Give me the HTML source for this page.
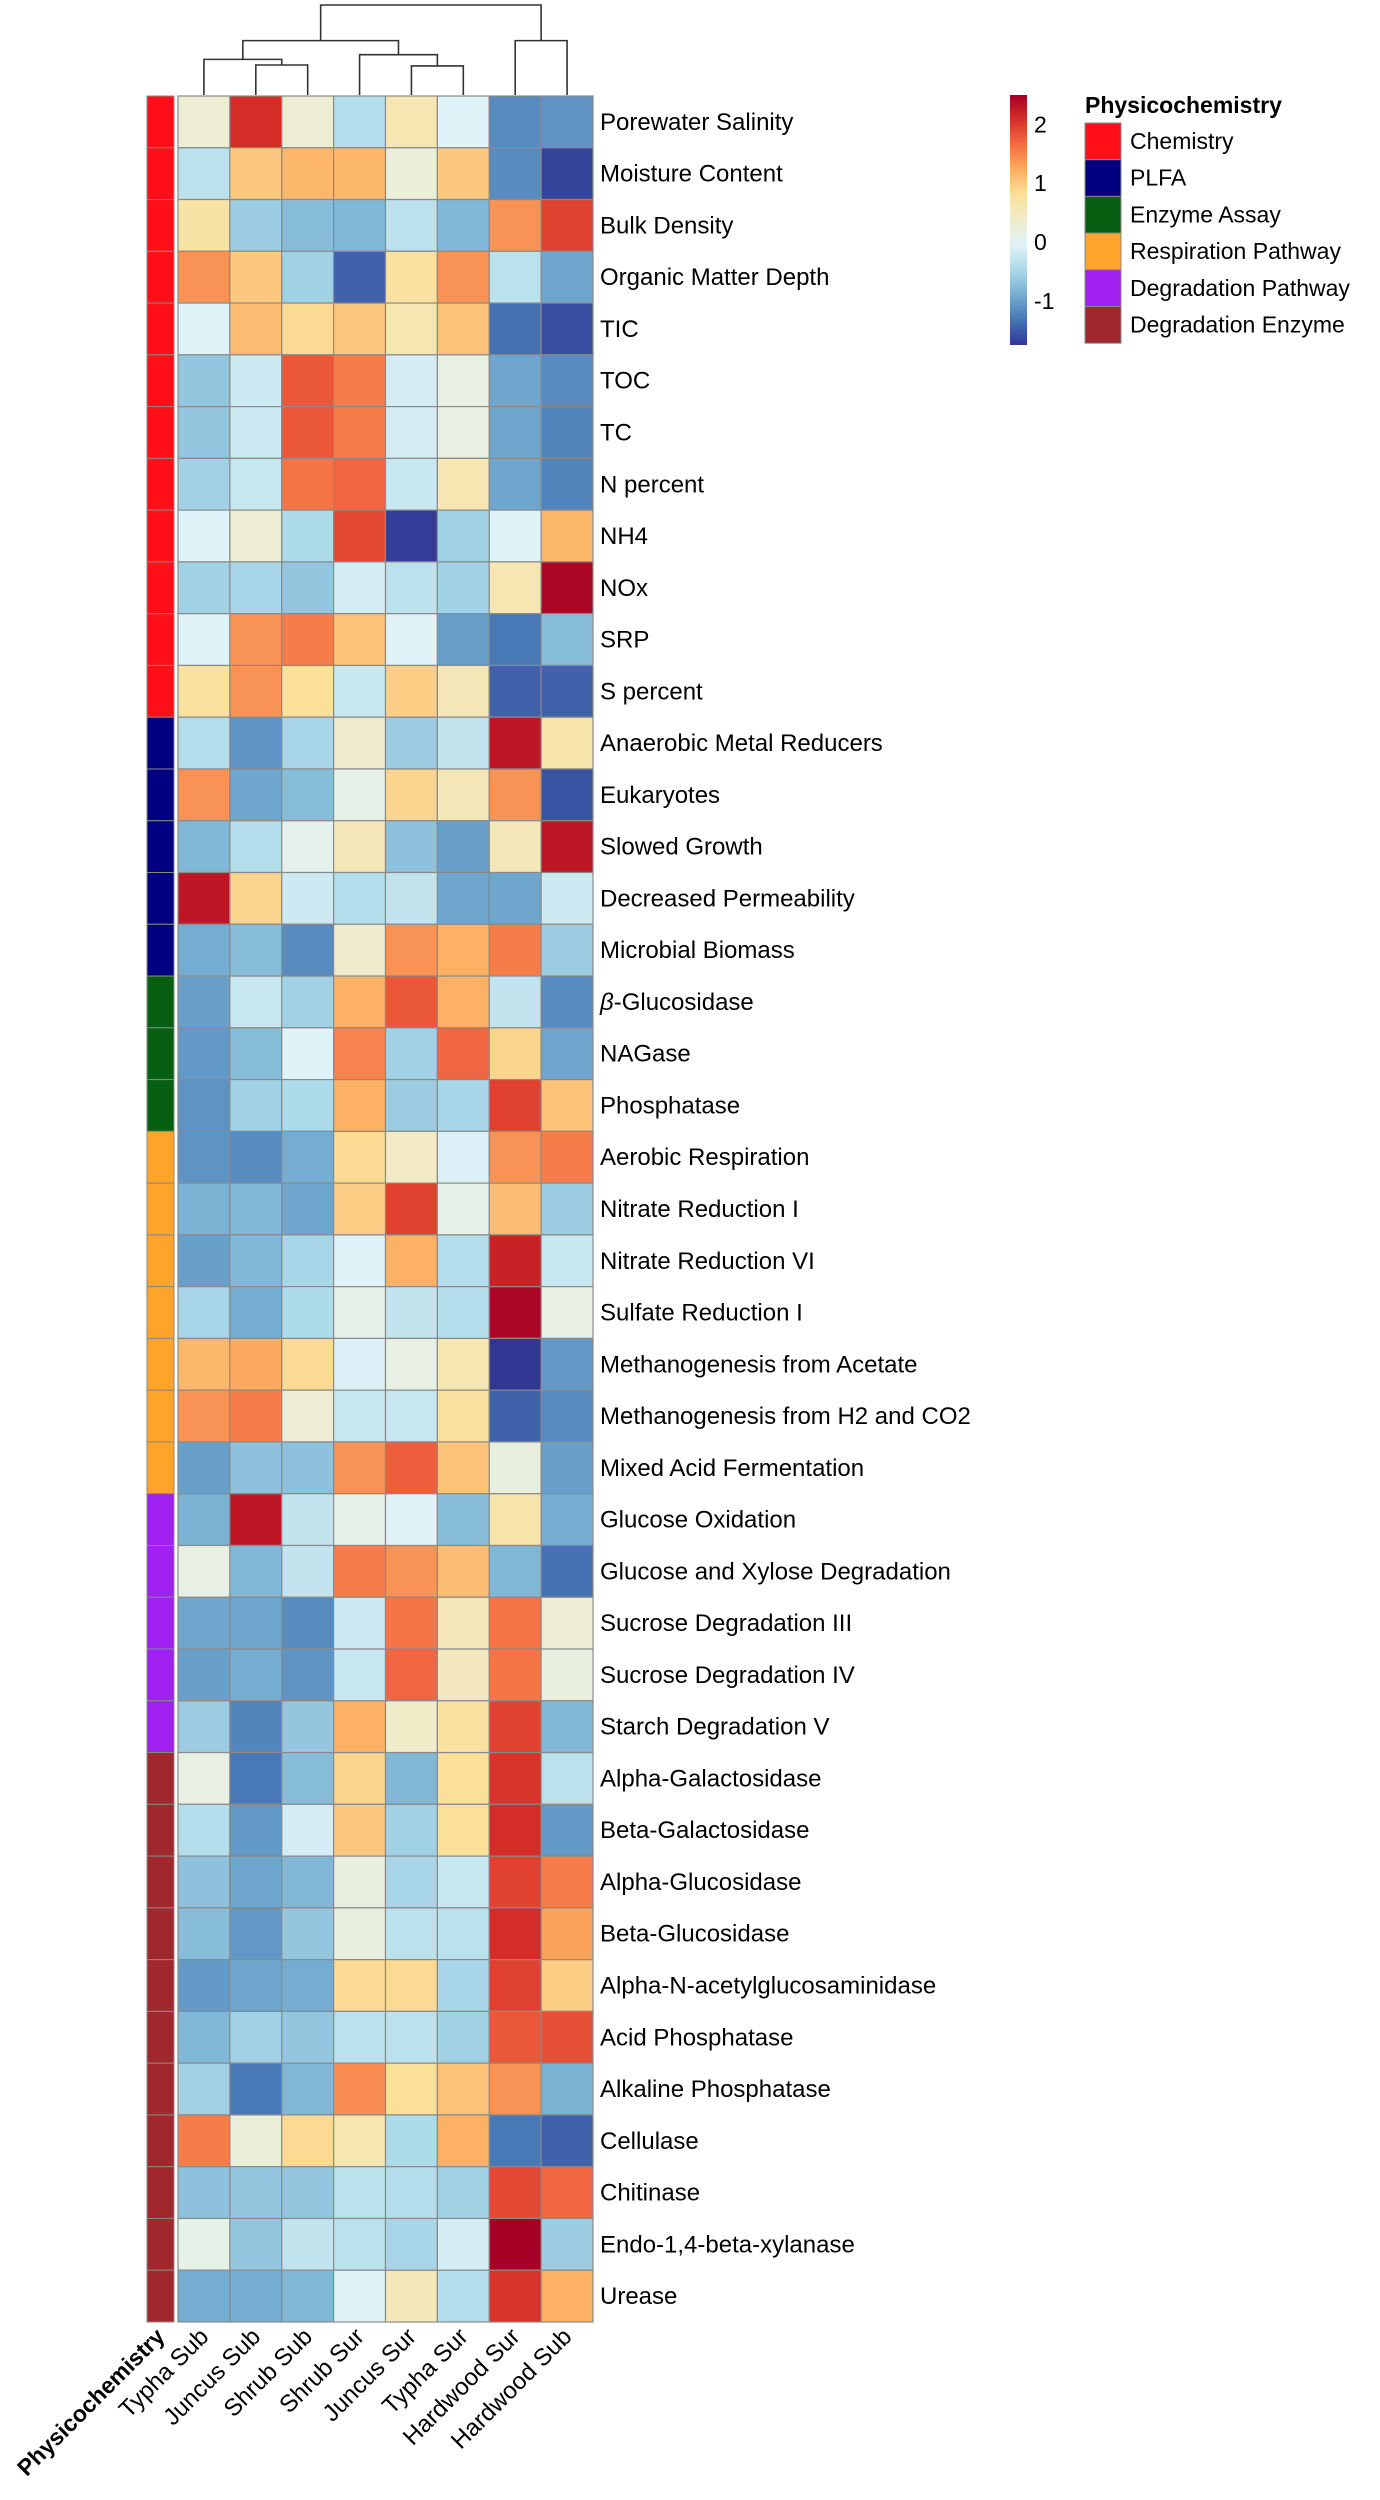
<!DOCTYPE html>
<html><head><meta charset="utf-8"><style>
html,body{margin:0;padding:0;background:#fff;}
svg{display:block;font-family:"Liberation Sans",Arial,sans-serif;}
</style></head><body>
<svg id="chart" width="1380" height="2500" viewBox="0 0 1380 2500" xmlns="http://www.w3.org/2000/svg"></svg>
<script>
const samples = ["Typha Sub","Juncus Sub","Shrub Sub","Shrub Sur","Juncus Sur","Typha Sur","Hardwood Sur","Hardwood Sub"];
const rowLabels = ["Porewater Salinity","Moisture Content","Bulk Density","Organic Matter Depth","TIC","TOC","TC","N percent","NH4","NOx","SRP","S percent",
"Anaerobic Metal Reducers","Eukaryotes","Slowed Growth","Decreased Permeability","Microbial Biomass",
"β-Glucosidase","NAGase","Phosphatase",
"Aerobic Respiration","Nitrate Reduction I","Nitrate Reduction VI","Sulfate Reduction I","Methanogenesis from Acetate","Methanogenesis from H2 and CO2","Mixed Acid Fermentation",
"Glucose Oxidation","Glucose and Xylose Degradation","Sucrose Degradation III","Sucrose Degradation IV","Starch Degradation V",
"Alpha-Galactosidase","Beta-Galactosidase","Alpha-Glucosidase","Beta-Glucosidase","Alpha-N-acetylglucosaminidase","Acid Phosphatase","Alkaline Phosphatase","Cellulase","Chitinase","Endo-1,4-beta-xylanase","Urease"];
const rowGroups = [0,0,0,0,0,0,0,0,0,0,0,0,1,1,1,1,1,2,2,2,3,3,3,3,3,3,3,4,4,4,4,4,5,5,5,5,5,5,5,5,5,5,5];
const groupNames = ["Chemistry","PLFA","Enzyme Assay","Respiration Pathway","Degradation Pathway","Degradation Enzyme"];
const groupColors = ["#ff0f17","#000080","#075f12","#fea42a","#a020f0","#a0282c"];
const values = [
[0.3,2.1,0.3,-0.4,0.6,-0.05,-1.15,-1.1],
[-0.35,1.0,1.15,1.15,0.25,1.0,-1.15,-1.65],
[0.7,-0.6,-0.75,-0.8,-0.35,-0.8,1.4,1.95],
[1.4,1.0,-0.55,-1.45,0.75,1.4,-0.35,-0.95],
[-0.05,1.1,0.85,1.0,0.6,1.05,-1.35,-1.6],
[-0.65,-0.2,1.8,1.55,-0.15,0.15,-0.95,-1.15],
[-0.65,-0.2,1.8,1.55,-0.15,0.15,-0.95,-1.2],
[-0.55,-0.25,1.6,1.7,-0.25,0.6,-0.95,-1.2],
[-0.05,0.3,-0.45,1.9,-1.7,-0.55,-0.05,1.15],
[-0.55,-0.5,-0.65,-0.15,-0.35,-0.55,0.6,2.45],
[-0.05,1.4,1.55,1.05,-0.05,-1.0,-1.3,-0.75],
[0.75,1.4,0.8,-0.25,0.95,0.55,-1.45,-1.45],
[-0.4,-1.1,-0.5,0.35,-0.6,-0.3,2.3,0.65],
[1.4,-0.95,-0.75,0.1,0.9,0.55,1.4,-1.55],
[-0.8,-0.4,0.05,0.55,-0.7,-1.0,0.55,2.3],
[2.3,0.9,-0.2,-0.4,-0.3,-0.95,-0.95,-0.2],
[-0.9,-0.75,-1.15,0.35,1.4,1.2,1.55,-0.6],
[-1.0,-0.25,-0.55,1.2,1.8,1.2,-0.3,-1.15],
[-1.05,-0.75,-0.05,1.5,-0.55,1.7,0.9,-0.95],
[-1.1,-0.55,-0.45,1.2,-0.6,-0.5,1.95,1.05],
[-1.1,-1.15,-0.9,0.85,0.45,-0.1,1.4,1.55],
[-0.85,-0.8,-0.95,0.95,1.95,0.1,1.1,-0.6],
[-1.0,-0.8,-0.5,-0.05,1.2,-0.4,2.2,-0.25],
[-0.5,-0.9,-0.45,0.1,-0.3,-0.4,2.45,0.15],
[1.15,1.25,0.85,-0.1,0.15,0.6,-1.75,-1.05],
[1.4,1.55,0.3,-0.25,-0.25,0.75,-1.45,-1.15],
[-1.0,-0.7,-0.7,1.4,1.75,1.05,0.2,-1.0],
[-0.85,2.3,-0.3,0.1,-0.05,-0.75,0.65,-0.9],
[0.15,-0.8,-0.3,1.55,1.4,1.1,-0.8,-1.35],
[-0.95,-0.95,-1.15,-0.2,1.6,0.55,1.6,0.3],
[-1.0,-0.9,-1.1,-0.25,1.7,0.5,1.6,0.2],
[-0.6,-1.2,-0.65,1.2,0.4,0.75,1.95,-0.8],
[0.15,-1.3,-0.75,0.9,-0.8,0.8,2.05,-0.35],
[-0.4,-1.05,-0.15,1.0,-0.55,0.8,2.1,-1.05],
[-0.7,-0.95,-0.8,0.2,-0.5,-0.25,1.95,1.55],
[-0.75,-1.05,-0.65,0.2,-0.35,-0.35,2.1,1.3],
[-1.05,-0.95,-0.9,0.85,0.85,-0.5,1.95,0.95],
[-0.8,-0.55,-0.65,-0.35,-0.35,-0.55,1.8,1.85],
[-0.55,-1.3,-0.8,1.45,0.8,1.05,1.4,-0.85],
[1.55,0.25,0.85,0.6,-0.45,1.2,-1.3,-1.45],
[-0.7,-0.65,-0.65,-0.35,-0.4,-0.55,1.9,1.7],
[0.1,-0.65,-0.3,-0.35,-0.5,-0.15,2.5,-0.6],
[-0.9,-0.9,-0.8,-0.05,0.55,-0.4,2.05,1.2]
];
const legendTicks = [2,1,0,-1];
// dendrogram merges: [left, right, height]; leaves 0..7, merged nodes 8..
const merges = [[1,2,0.32],[4,5,0.31],[0,8,0.38],[3,9,0.43],[6,7,0.58],[10,11,0.58],[13,12,0.96]];

const svg = document.getElementById('chart');
const NS = 'http://www.w3.org/2000/svg';
function mk(tag, attrs, parent){const e=document.createElementNS(NS,tag);for(const k in attrs)e.setAttribute(k,attrs[k]);(parent||svg).appendChild(e);return e;}

const X0=178, X1=593, Y0=96, Y1=2322;
const cw=(X1-X0)/samples.length, rh=(Y1-Y0)/rowLabels.length;
const vmin=-1.75, vmax=2.5;
const pal=["#313695","#4575b4","#74add1","#abd9e9","#e0f3f8","#f0eccb","#fbe09a","#fdae61","#f46d43","#d73027","#a50026"];
function hex(h){return [1,3,5].map(i=>parseInt(h.substr(i,2),16));}
function color(v){let t=(v-vmin)/(vmax-vmin);t=Math.max(0,Math.min(1,t));const p=t*(pal.length-1);const i=Math.min(pal.length-2,Math.floor(p));const f=p-i;const a=hex(pal[i]),b=hex(pal[i+1]);return 'rgb('+a.map((c,k)=>Math.round(c+(b[k]-c)*f)).join(',')+')';}
function xCol(i){return X0+i*cw;}
function yRow(r){return Y0+r*rh;}

// annotation column
const annG=mk('g',{});


rowGroups.forEach((g,r)=>{
  const e=mk('rect',{x:147,y:yRow(r),width:27,height:rh,fill:groupColors[g],stroke:'#888','stroke-width':1},annG);
  
  
});

// heatmap cells
const cellG=mk('g',{});


values.forEach((row,r)=>row.forEach((v,c)=>{
  const e=mk('rect',{x:xCol(c),y:yRow(r),width:cw,height:rh,fill:color(v),stroke:'#8a8a8a','stroke-width':1.2},cellG);
  
  
}));

// row labels
rowLabels.forEach((lab,r)=>{
  const t=mk('text',{x:600,y:yRow(r)+rh/2+8,'font-size':24,fill:'#000'});
  if(lab.startsWith('β')){const ts=mk('tspan',{'font-style':'italic'},t);ts.textContent='β';const t2=mk('tspan',{},t);t2.textContent=lab.slice(1);}
  else t.textContent=lab;
  
  
});

// column labels
samples.forEach((s,c)=>{
  const x=xCol(c)+cw/2+6, y=2338;
  const t=mk('text',{x:x,y:y,'font-size':24,'text-anchor':'end',transform:'rotate(-45 '+x+' '+y+')',fill:'#000'});
  t.textContent=s;
  
  
});
{
  const x=166,y=2338;
  const t=mk('text',{x:x,y:y,'font-size':23,'font-weight':'bold','text-anchor':'end',transform:'rotate(-45 '+x+' '+y+')'});
  t.textContent='Physicochemistry';
  
  
}

// dendrogram
const dTop=5, dBot=95, hMax=0.96;
function hy(h){return dBot-(h/hMax)*(dBot-dTop);}
const nodes=samples.map((s,i)=>({x:xCol(i)+cw/2,h:0}));
const dG=mk('g',{fill:'none',stroke:'#333','stroke-width':1.6});


merges.forEach(m=>{
  const a=nodes[m[0]], b=nodes[m[1]], y=hy(m[2]);
  const p=mk('path',{d:'M'+a.x+','+hy(a.h)+'V'+y+'H'+b.x+'V'+hy(b.h)},dG);
  
  
  nodes.push({x:(a.x+b.x)/2,h:m[2]});
});

// color legend
const lg=mk('linearGradient',{id:'grad',x1:0,y1:1,x2:0,y2:0},mk('defs',{}));
pal.forEach((c,i)=>mk('stop',{offset:i/(pal.length-1),'stop-color':c},lg));
const LB0=95, LB1=345;
function ly(v){return LB1-(v-vmin)/(vmax-vmin)*(LB1-LB0);}
const cb=mk('rect',{x:1010,y:LB0,width:17,height:LB1-LB0,fill:'url(#grad)'});


legendTicks.forEach(v=>{
  const t=mk('text',{x:1034,y:ly(v)+8,'font-size':23});
  t.textContent=v;
  
  
});

// group legend
const gt=mk('text',{x:1085,y:113,'font-size':23,'font-weight':'bold'});
gt.textContent='Physicochemistry';


groupNames.forEach((g,i)=>{
  const y=123+i*36.7;
  const r=mk('rect',{x:1085,y:y,width:36,height:36.7,fill:groupColors[i],stroke:'#888','stroke-width':1});
  
  
  const t=mk('text',{x:1130,y:y+26,'font-size':23});
  t.textContent=g;
  
  
});
</script>
</body></html>
